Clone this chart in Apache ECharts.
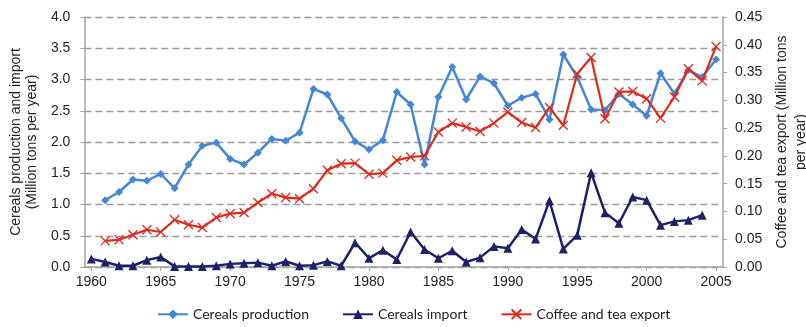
<!DOCTYPE html>
<html>
<head>
<meta charset="utf-8">
<script src="https://cdn.jsdelivr.net/npm/echarts@6/dist/echarts.min.js"></script>
<style>
  html, body { margin: 0; padding: 0; background: #fff; }
  #chart { width: 806px; height: 327px; }
</style>
</head>
<body>
<div id="chart"></div>
<script>
// Years 1960–2005
const years = [];
for (let y = 1960; y <= 2005; y++) years.push(String(y));

// Cereals production (million tons per year), left axis
const cerealsProduction = [null,
  1.07, 1.20, 1.40, 1.38, 1.49, 1.26, 1.64, 1.94, 1.99, 1.73,
  1.64, 1.83, 2.05, 2.02, 2.15, 2.85, 2.76, 2.38, 2.01, 1.88,
  2.03, 2.80, 2.60, 1.64, 2.72, 3.20, 2.68, 3.05, 2.94, 2.58,
  2.71, 2.77, 2.36, 3.40, 3.04, 2.52, 2.51, 2.77, 2.60, 2.42,
  3.10, 2.77, 3.15, 3.04, 3.32];

// Cereals import (million tons per year), left axis
const cerealsImport = [
  0.13, 0.08, 0.02, 0.02, 0.11, 0.16, 0.01, 0.01, 0.01, 0.02,
  0.05, 0.06, 0.07, 0.02, 0.09, 0.02, 0.03, 0.09, 0.02, 0.39,
  0.14, 0.27, 0.12, 0.56, 0.28, 0.14, 0.26, 0.08, 0.15, 0.33,
  0.30, 0.60, 0.45, 1.06, 0.29, 0.51, 1.51, 0.87, 0.70, 1.12,
  1.07, 0.67, 0.73, 0.75, 0.83, null];

// Coffee and tea export (million tons per year), right axis
const coffeeTeaExport = [null,
  0.047, 0.049, 0.058, 0.067, 0.063, 0.085, 0.076, 0.071, 0.089, 0.096,
  0.098, 0.116, 0.132, 0.125, 0.123, 0.141, 0.174, 0.186, 0.187, 0.167,
  0.169, 0.192, 0.198, 0.200, 0.243, 0.259, 0.252, 0.244, 0.259, 0.279,
  0.260, 0.251, 0.287, 0.255, 0.348, 0.377, 0.267, 0.315, 0.316, 0.303,
  0.268, 0.306, 0.357, 0.335, 0.397];

const seriesNames = ['Cereals production', 'Cereals import', 'Coffee and tea export'];
const leftTitle = 'Cereals production and import\n(Million tons per year)';
const rightTitle = 'Coffee and tea export (Million tons\nper year)';

const BLUE = '#4587d4';
const NAVY = '#1e2068';
const RED = '#de2a1e';
const AXIS_GRAY = '#a3a3a3';
const TEXT = '#222';
const FONT = '"Liberation Sans", Arial, sans-serif';

const chart = echarts.init(document.getElementById('chart'), null, { renderer: 'canvas' });

chart.setOption({
  animation: false,
  backgroundColor: '#fff',
  textStyle: { fontFamily: FONT },
  grid: { left: 82, right: 83, top: 17, bottom: 60, containLabel: false },
  legend: {
    left: 152,
    top: 302,
    itemWidth: 30,
    itemHeight: 12,
    itemGap: 33,
    textStyle: { fontFamily: 'Lato, "Open Sans", sans-serif', fontSize: 14, color: TEXT },
    data: seriesNames
  },
  // Right-hand axis title, set close to the page edge
  graphic: [{
    type: 'text',
    x: 792,
    y: 142,
    rotation: Math.PI / 2,
    style: {
      text: rightTitle,
      align: 'center',
      verticalAlign: 'middle',
      fontSize: 14,
      lineHeight: 19,
      fontFamily: FONT,
      fill: TEXT
    }
  }],
  xAxis: {
    type: 'category',
    data: years,
    boundaryGap: true,
    axisLine: { lineStyle: { color: AXIS_GRAY, width: 1.5 } },
    axisTick: { show: true, interval: 4, alignWithLabel: true, length: 4, lineStyle: { color: AXIS_GRAY } },
    axisLabel: { interval: 4, fontSize: 14, color: TEXT, margin: 8, fontFamily: FONT },
    splitLine: { show: false }
  },
  yAxis: [
    {
      type: 'value',
      min: 0, max: 4, interval: 0.5,
      name: leftTitle,
      nameLocation: 'middle',
      nameRotate: 90,
      nameGap: 42,
      nameTextStyle: { fontSize: 14, color: TEXT, fontFamily: FONT, lineHeight: 16 },
      axisLine: { show: true, lineStyle: { color: AXIS_GRAY, width: 1.5 } },
      axisTick: { show: true, length: 4, lineStyle: { color: AXIS_GRAY } },
      axisLabel: { fontSize: 14, color: TEXT, margin: 14, fontFamily: FONT,
                   formatter: v => v.toFixed(1) },
      splitLine: { show: true, lineStyle: { color: '#9a9a9a', width: 1.4, type: [7, 4] } }
    },
    {
      type: 'value',
      min: 0, max: 0.45, interval: 0.05,
      position: 'right',
      axisLine: { show: true, lineStyle: { color: AXIS_GRAY, width: 1.5 } },
      axisTick: { show: true, length: 4, lineStyle: { color: AXIS_GRAY } },
      axisLabel: { fontSize: 14, color: TEXT, margin: 12, fontFamily: FONT,
                   formatter: v => v.toFixed(2) },
      splitLine: { show: false }
    }
  ],
  series: [
    {
      name: seriesNames[0],
      type: 'line',
      yAxisIndex: 0,
      data: cerealsProduction,
      showAllSymbol: true,
      symbol: 'diamond',
      symbolSize: 8,
      lineStyle: { color: BLUE, width: 2.5 },
      itemStyle: { color: BLUE },
      z: 2
    },
    {
      name: seriesNames[1],
      type: 'line',
      yAxisIndex: 0,
      data: cerealsImport,
      showAllSymbol: true,
      symbol: 'triangle',
      symbolSize: 9,
      lineStyle: { color: NAVY, width: 2.5 },
      itemStyle: { color: NAVY },
      z: 3
    },
    {
      name: seriesNames[2],
      type: 'line',
      yAxisIndex: 1,
      data: coffeeTeaExport,
      showAllSymbol: true,
      symbol: 'path://M0,0L10,10M10,0L0,10',
      symbolSize: 9,
      lineStyle: { color: RED, width: 2.2 },
      itemStyle: { color: 'none', borderColor: RED, borderWidth: 1.3 },
      z: 4
    }
  ]
});
</script>
</body>
</html>
